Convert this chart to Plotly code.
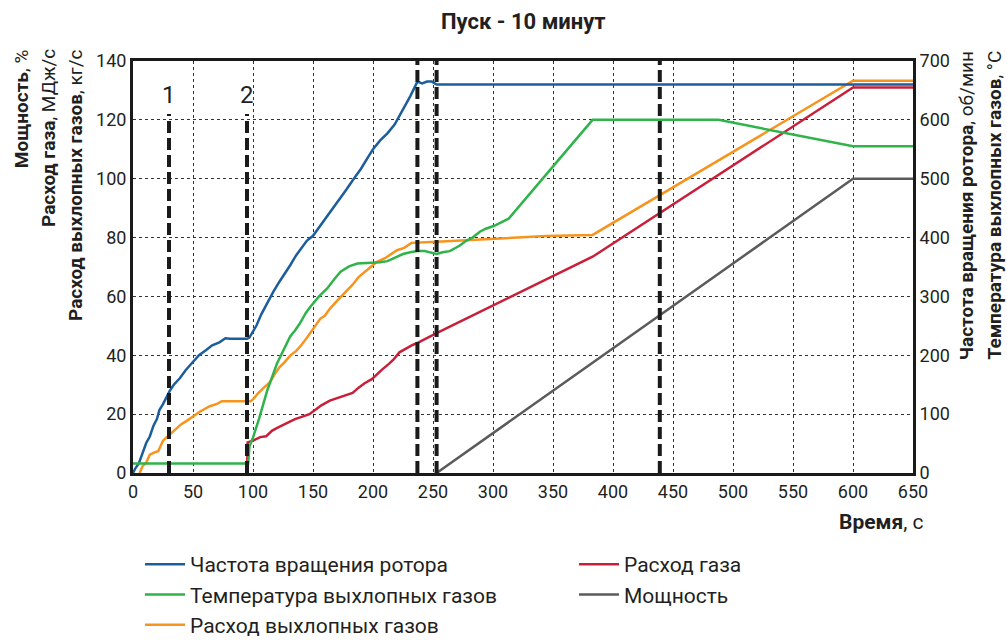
import plotly.graph_objects as go

# ---------------- data ----------------
rotor_t = [0, 2, 5, 8, 11, 14, 17, 20, 22, 25, 28, 30.5, 34, 39, 44, 50, 55, 61, 66, 72, 77, 81, 95,
           97, 100, 103, 107, 112, 117, 122, 126, 131, 136, 140, 145, 150, 155, 160, 166, 172, 178,
           184, 190, 196, 200, 206, 212, 218, 225, 231, 237, 241, 245, 249, 253, 650]
rotor_rpm = [0, 8, 17, 35, 51, 62, 80, 92, 107, 117, 130, 139, 150, 161, 175, 188, 200, 209, 217, 222, 229, 228, 228,
             230, 240, 251, 270, 290, 308, 325, 337, 353, 370, 381, 395, 403, 417, 430, 447, 465, 482,
             500, 517, 537, 550, 565, 577, 592, 617, 640, 665, 662, 665, 665, 660, 660]

gas_t = [95, 95.5, 100, 106, 111, 116, 121, 126, 130, 135, 140, 147, 152, 157, 164, 170, 176, 183, 188, 193,
         199, 203, 208, 213, 217, 222, 228, 233, 238, 253, 383, 600, 650]
gas_flow = [0, 10.4, 11, 12.2, 12.5, 14.4, 15.5, 16.5, 17.5, 18.3, 19, 20, 21.5, 23, 24.6, 25.5, 26.2, 27.2, 29, 30.5,
            31.9, 33.5, 35.3, 37, 38.5, 41, 42.5, 43.5, 44.4, 47.5, 73.5, 131, 131]

temp_t = [0, 96, 97, 100, 105, 112, 120, 126, 131, 135, 139, 144, 148, 155, 162, 168, 173, 180, 187, 195,
          206, 212, 218, 225, 231, 237, 243, 248, 253, 258, 264, 272, 278, 283, 289, 294, 301, 306, 313,
          383, 488, 600, 650]
temp_c = [16, 16, 45, 60, 92, 141, 186, 210, 232, 242, 254, 272, 283, 300, 314, 330, 342, 351, 356, 357,
          358, 360, 365, 372, 375, 377, 377, 375, 372, 375, 377, 386, 395, 400, 410, 415, 420, 425, 432,
          600, 600, 555, 555]

power_t = [253, 600, 650]
power_pct = [0, 100, 100]

exh_t = [5.5, 8, 11, 14, 18, 21, 25, 29, 35, 40, 45, 50, 56, 64, 70, 74, 98, 100, 104, 109, 114, 118, 122,
         126, 131, 136, 140, 145, 150, 156, 160, 164, 170, 178, 183, 188, 195, 203, 210, 220, 226, 232,
         253, 300, 344, 383, 600, 650]
exh_flow = [0, 2.3, 3.5, 6.2, 7, 7.4, 11, 12.5, 14.7, 16.5, 17.8, 19.2, 20.9, 22.7, 23.5, 24.4, 24.4, 25, 27,
            29, 30.8, 33.5, 35.9, 37.5, 39.9, 41.5, 43.3, 46, 49, 52.4, 53.5, 55.8, 58.5, 62, 64, 66.6, 69,
            71.7, 73, 75.7, 76.5, 78.2, 78.6, 79.5, 80.5, 80.9, 133.3, 133.3]

event_labels = ["1", "2", "3", "4", "5"]
event_t = [30, 95, 237, 253, 439]
event_top = [122, 122, 140, 140, 140]

x_ticks = list(range(0, 651, 50))
y_ticks = list(range(0, 141, 20))
y2_ticks = list(range(0, 701, 100))

# ---------------- style ----------------
FONT = "Roboto, Liberation Sans Narrow, Arial Narrow, sans-serif"
TXT = "#231f20"
C_BLUE = "#1c5e9c"
C_RED = "#c8203a"
C_GREEN = "#2fb34a"
C_GRAY = "#5b5b5b"
C_ORANGE = "#f7941d"

fig = go.Figure()
fig.add_trace(go.Scatter(x=rotor_t, y=rotor_rpm, yaxis="y2", mode="lines", legend="legend",
                         legendgroup="a", line=dict(color=C_BLUE, width=2.5), name="Частота вращения ротора"))
fig.add_trace(go.Scatter(x=temp_t, y=temp_c, yaxis="y2", mode="lines", legend="legend",
                         legendgroup="b", line=dict(color=C_GREEN, width=2.5), name="Температура выхлопных газов"))
fig.add_trace(go.Scatter(x=exh_t, y=exh_flow, mode="lines", legend="legend",
                         legendgroup="c", line=dict(color=C_ORANGE, width=2.5), name="Расход выхлопных газов"))
fig.add_trace(go.Scatter(x=gas_t, y=gas_flow, mode="lines", legend="legend2",
                         legendgroup="d", line=dict(color=C_RED, width=2.5), name="Расход газа"))
fig.add_trace(go.Scatter(x=power_t, y=power_pct, mode="lines", legend="legend2",
                         legendgroup="e", line=dict(color=C_GRAY, width=2.5), name="Мощность"))

shapes = []
annotations = []
for lab, t, top in zip(event_labels, event_t, event_top):
    shapes.append(dict(type="line", xref="x", yref="y", x0=t, x1=t, y0=0, y1=top,
                       line=dict(color="#1a1a1a", width=4, dash="12px,5px")))
    annotations.append(dict(xref="x", yref="y", x=t, y=top + 1, text=lab, showarrow=False,
                            xanchor="center", yanchor="bottom",
                            font=dict(family=FONT, size=24, color=TXT)))

def paper_x(px):
    return (px - 133) / 780.0

def paper_y(py):
    return (473 - py) / 412.0

left_titles = [("<b>Мощность</b>, %", 21.7),
               ("<b>Расход газа</b>, МДж/с", 48),
               ("<b>Расход выхлопных газов</b>, кг/с", 75)]
for txt, px in left_titles:
    annotations.append(dict(xref="paper", yref="paper", x=paper_x(px), y=paper_y(47), text=txt,
                            textangle=-90, showarrow=False, xanchor="center", yanchor="top",
                            font=dict(family=FONT, size=19, color=TXT)))
right_titles = [("<b>Частота вращения ротора</b>, об/мин", 966.7),
                ("<b>Температура выхлопных газов</b>, °С", 994)]
for txt, px in right_titles:
    annotations.append(dict(xref="paper", yref="paper", x=paper_x(px), y=paper_y(49), text=txt,
                            textangle=-90, showarrow=False, xanchor="center", yanchor="top",
                            font=dict(family=FONT, size=19, color=TXT)))

annotations.append(dict(xref="paper", yref="paper", x=0.5, y=paper_y(22), text="<b>Пуск - 10 минут</b>",
                        showarrow=False, xanchor="center", yanchor="middle",
                        font=dict(family=FONT, size=22, color=TXT)))
annotations.append(dict(xref="paper", yref="paper", x=paper_x(926), y=paper_y(522), text="<b>Время</b>, с",
                        showarrow=False, xanchor="right", yanchor="middle",
                        font=dict(family=FONT, size=21, color=TXT)))

leg_common = dict(orientation="v", xanchor="left", yanchor="top", traceorder="normal", itemwidth=40,
                  tracegroupgap=2, font=dict(family=FONT, size=21, color=TXT), bgcolor="rgba(0,0,0,0)")

fig.update_layout(
    width=1007, height=640,
    margin=dict(l=133, r=94, t=61, b=167, autoexpand=False),
    paper_bgcolor="white", plot_bgcolor="white",
    font=dict(family=FONT, size=18, color=TXT),
    showlegend=True,
    legend=dict(x=paper_x(140), y=paper_y(544), **leg_common),
    legend2=dict(x=paper_x(574), y=paper_y(544), **leg_common),
    xaxis=dict(range=[0, 650], tickvals=x_ticks, showgrid=True, gridcolor="#333333", griddash="dot",
               gridwidth=1, zeroline=False, showline=True, linecolor="#1a1a1a", linewidth=3,
               mirror=True, ticks="", tickfont=dict(family=FONT, size=18, color=TXT)),
    yaxis=dict(range=[0, 140], tickvals=y_ticks, showgrid=True, gridcolor="#333333", griddash="dot",
               gridwidth=1, zeroline=False, showline=True, linecolor="#1a1a1a", linewidth=3,
               ticks="", tickfont=dict(family=FONT, size=18, color=TXT)),
    yaxis2=dict(range=[0, 700], tickvals=y2_ticks, overlaying="y", side="right", showgrid=False,
                zeroline=False, showline=True, linecolor="#1a1a1a", linewidth=3, ticks="",
                tickfont=dict(family=FONT, size=18, color=TXT)),
    shapes=shapes,
    annotations=annotations,
)

fig.write_html("out.html", post_script="document.body.style.margin='0';",
               config={"displayModeBar": False})
